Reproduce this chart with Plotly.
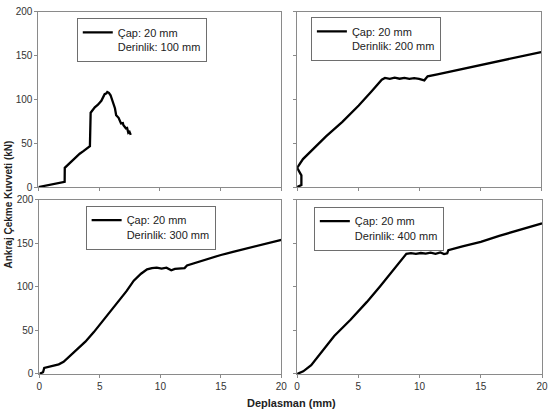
import plotly.graph_objects as go

# ---- data ----
labels = ["Çap: 20 mm<br>Derinlik: 100 mm", "Çap: 20 mm<br>Derinlik: 200 mm",
          "Çap: 20 mm<br>Derinlik: 300 mm", "Çap: 20 mm<br>Derinlik: 400 mm"]

x_100 = [0, 1.13, 2.16, 2.17, 2.35, 2.7, 3.02, 3.4, 3.7, 4.0, 4.24, 4.3, 4.64, 4.9, 5.18, 5.45, 5.6, 5.67,
         5.8, 5.94, 6.13, 6.3, 6.4, 6.6, 6.8, 6.95, 7.0, 7.2, 7.3, 7.4, 7.5, 7.6]
y_100 = [0, 3.3, 5.9, 21.9, 24.4, 29, 33.7, 38, 41, 44, 46.7, 84.8, 91, 94, 98.5, 106, 107, 108.5,
         107.5, 104.8, 96.7, 90, 81.9, 79, 72.6, 73, 70.5, 67, 67.5, 62, 63, 59.6]

x_200 = [0, 0.35, 0.35, 0.16, 0, 0.48, 1.29, 2.37, 3.71, 5.05, 6.13, 6.94, 7.2, 7.6, 8.0, 8.4, 8.8,
         9.2, 9.6, 10.0, 10.43, 10.7, 11.5, 12.58, 13.5, 14.5, 15.5, 16.5, 17.5, 18.5, 19.3, 20]
y_200 = [0, 2.2, 13.3, 18.9, 21.9, 31.9, 43, 57.8, 74.4, 93, 109.6, 122.6, 124.5, 123.5, 124.8, 123.6, 124.6,
         123.4, 124.2, 123.5, 121.8, 126.3, 128.7, 131.9, 134.6, 137.5, 140.5, 143.4, 146.4, 149.4, 151.8, 154]

x_300 = [0, 0.3, 0.4, 0.7, 1.0, 1.3, 1.6, 2.0, 2.4, 3.0, 3.8, 4.5, 5.1, 5.8, 6.5, 7.2, 7.8, 8.4, 8.9,
         9.3, 9.7, 10.1, 10.5, 10.9, 11.2, 11.6, 12.0, 12.2, 13, 14, 15, 16, 17, 18, 19, 20]
y_300 = [0, 2, 7, 8, 9, 9.5, 11, 14, 19, 26, 37, 48, 58.5, 70, 83, 95, 107, 115, 120,
         121.5, 122, 121, 122, 119, 120.5, 121, 121.5, 124.5, 128, 132.5, 136.5, 140, 143.5, 147, 150.5, 154]

x_400 = [0, 0.5, 1.15, 2.0, 3.03, 4.36, 5.7, 6.8, 7.85, 8.4, 8.92, 9.3, 9.7, 10.1, 10.5, 10.9, 11.3,
         11.7, 12.0, 12.26, 12.35, 13.5, 15, 16.5, 18, 19, 20]
y_400 = [0, 3, 10, 25, 43.6, 62.2, 82.7, 101, 119.9, 129, 137.8, 138.6, 137.9, 138.8, 138.2, 139.2, 137.8,
         139.5, 137.6, 138.5, 142, 146.5, 151.6, 158.5, 164.5, 168.5, 172.8]

x_ticks = [0, 5, 10, 15, 20]
y_ticks = [0, 50, 100, 150, 200]

series = [(x_100, y_100), (x_200, y_200), (x_300, y_300), (x_400, y_400)]

W, H = 551, 414
# pixel boxes of each panel: (left, right, top, bottom)
boxes = [(36, 283, 7, 187), (299, 547, 7, 187), (37, 283, 200, 379), (299, 548, 200, 379)]
legend_pos = [(75, 13), (313, 12), (84, 206), (316, 207)]

fig = go.Figure()
font = "Liberation Sans, Arial, sans-serif"
axis_color = "#8a8a8a"

for i, ((xs, ys), (l, r, t, b), (lx, ly)) in enumerate(zip(series, boxes, legend_pos)):
    n = "" if i == 0 else str(i + 1)
    fig.add_trace(go.Scatter(x=xs, y=ys, mode="lines", name=labels[i],
                             line=dict(color="black", width=2.3),
                             xaxis="x" + n, yaxis="y" + n,
                             legend="legend" + n))
    fig.layout["xaxis" + n] = dict(
        domain=[l / W, r / W], range=[0, 20], anchor="y" + n,
        tickvals=x_ticks, ticks="outside", ticklen=3, tickcolor=axis_color,
        showline=True, linecolor=axis_color, linewidth=1, mirror=True,
        showgrid=False, zeroline=False, showticklabels=(i >= 2),
        tickfont=dict(family=font, size=10, color="#333333"))
    fig.layout["yaxis" + n] = dict(
        domain=[1 - b / H, 1 - t / H], range=[0, 200], anchor="x" + n,
        tickvals=y_ticks, ticks="outside", ticklen=3, tickcolor=axis_color,
        showline=True, linecolor=axis_color, linewidth=1, mirror=True,
        showgrid=False, zeroline=False, showticklabels=(i % 2 == 0),
        tickfont=dict(family=font, size=10, color="#333333"))
    fig.layout["legend" + n] = dict(
        x=lx / W, y=1 - ly / H, xref="paper", yref="paper",
        xanchor="left", yanchor="top", bgcolor="white",
        bordercolor="#6e6e6e", borderwidth=1, valign="top",
        font=dict(family=font, size=11, color="#222222"))

fig.add_annotation(text="<b>Ankraj Çekme Kuvveti (kN)</b>", textangle=-90,
                   x=6 / W, y=1 - 205 / H, xref="paper", yref="paper",
                   showarrow=False, xanchor="center", yanchor="middle",
                   font=dict(family=font, size=10, color="#222222"))
fig.add_annotation(text="<b>Deplasman (mm)</b>",
                   x=293 / W, y=1 - 409 / H, xref="paper", yref="paper",
                   showarrow=False, xanchor="center", yanchor="middle",
                   font=dict(family=font, size=11, color="#222222"))

fig.update_layout(width=W, height=H, margin=dict(l=0, r=0, t=0, b=0),
                  paper_bgcolor="white", plot_bgcolor="white", showlegend=True)

fig.write_html("out.html")
